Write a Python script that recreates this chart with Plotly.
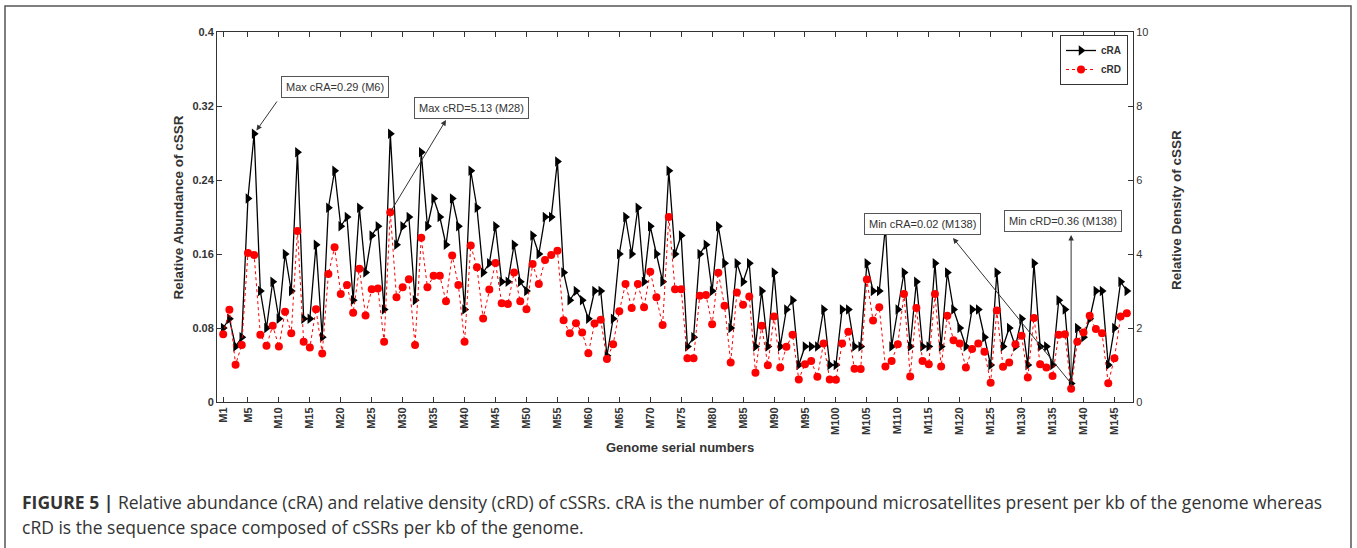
import plotly.graph_objects as go

# ---------------- data ----------------
genomes = ["M%d" % i for i in range(1, 148)]
tick_labels = ["M1", "M5", "M10", "M15", "M20", "M25", "M30", "M35", "M40", "M45",
               "M50", "M55", "M60", "M65", "M70", "M75", "M80", "M85", "M90", "M95",
               "M100", "M105", "M110", "M115", "M120", "M125", "M130", "M135", "M140", "M145"]

cra = [0.08, 0.09, 0.06, 0.07, 0.22, 0.29, 0.12, 0.08, 0.13, 0.09,
       0.16, 0.12, 0.27, 0.09, 0.09, 0.17, 0.07, 0.21, 0.25, 0.19,
       0.20, 0.11, 0.21, 0.14, 0.18, 0.19, 0.10, 0.29, 0.17, 0.19,
       0.20, 0.11, 0.27, 0.19, 0.22, 0.20, 0.17, 0.22, 0.19, 0.10,
       0.25, 0.21, 0.14, 0.15, 0.19, 0.13, 0.13, 0.17, 0.13, 0.12,
       0.18, 0.16, 0.20, 0.20, 0.26, 0.14, 0.11, 0.12, 0.11, 0.09,
       0.12, 0.12, 0.05, 0.09, 0.16, 0.20, 0.16, 0.21, 0.13, 0.19,
       0.16, 0.13, 0.25, 0.16, 0.18, 0.06, 0.07, 0.16, 0.17, 0.12,
       0.19, 0.15, 0.08, 0.15, 0.13, 0.15, 0.06, 0.12, 0.06, 0.14,
       0.06, 0.10, 0.11, 0.04, 0.06, 0.06, 0.06, 0.10, 0.04, 0.04,
       0.10, 0.10, 0.06, 0.06, 0.15, 0.12, 0.12, 0.19, 0.06, 0.10,
       0.14, 0.06, 0.13, 0.06, 0.06, 0.15, 0.06, 0.14, 0.10, 0.08,
       0.06, 0.10, 0.10, 0.07, 0.04, 0.14, 0.06, 0.08, 0.06, 0.09,
       0.04, 0.15, 0.06, 0.06, 0.04, 0.11, 0.10, 0.02, 0.08, 0.07,
       0.09, 0.12, 0.12, 0.04, 0.08, 0.13, 0.12]

crd = [1.83, 2.49, 1.01, 1.54, 4.03, 3.97, 1.82, 1.52, 2.06, 1.50,
       2.44, 1.86, 4.62, 1.63, 1.47, 2.51, 1.31, 3.46, 4.18, 2.92,
       3.16, 2.41, 3.60, 2.34, 3.05, 3.07, 1.63, 5.13, 2.83, 3.10,
       3.32, 1.54, 4.44, 3.10, 3.41, 3.41, 2.72, 3.96, 3.16, 1.63,
       4.23, 3.64, 2.26, 3.04, 3.76, 2.67, 2.65, 3.50, 2.72, 2.51,
       3.73, 3.19, 3.84, 3.97, 4.09, 2.21, 1.86, 2.13, 1.88, 1.32,
       2.12, 2.22, 1.16, 1.56, 2.45, 3.19, 2.54, 3.19, 2.56, 3.52,
       2.83, 2.08, 5.00, 3.05, 3.05, 1.18, 1.18, 2.87, 2.89, 2.10,
       3.49, 2.60, 1.07, 2.96, 2.63, 2.85, 0.79, 2.06, 0.99, 2.31,
       0.93, 1.49, 1.82, 0.61, 1.02, 1.11, 0.68, 1.58, 0.61, 0.60,
       1.58, 1.90, 0.90, 0.89, 3.31, 2.20, 2.56, 0.96, 1.11, 1.56,
       2.92, 0.69, 2.54, 1.11, 1.02, 2.92, 0.96, 2.33, 1.67, 1.58,
       0.93, 1.43, 1.58, 1.36, 0.52, 2.47, 0.95, 1.07, 1.56, 1.79,
       0.66, 2.27, 1.02, 0.93, 0.70, 1.82, 1.83, 0.36, 1.63, 1.88,
       2.33, 1.97, 1.86, 0.51, 1.18, 2.31, 2.40]

# ---------------- layout helpers (pixel geometry) ----------------
W, H = 1357, 548
PL, PR, PT, PB = 217, 1133, 32, 402          # plot area in pixels
XMIN, XMAX = 0, 148
Y1MAX, Y2MAX = 0.4, 10

def px_x(px):
    return XMIN + (px - PL) / (PR - PL) * (XMAX - XMIN)

def px_y1(py):
    return (PB - py) / (PB - PT) * Y1MAX

def px_y2(py):
    return (PB - py) / (PB - PT) * Y2MAX

def pap_x(px):
    return (px - PL) / (PR - PL)

def pap_y(py):
    return (PB - py) / (PB - PT)

pos = [genomes.index(g) + 1 for g in genomes]
tick_pos = [genomes.index(t) + 1 for t in tick_labels]

FONT = "Liberation Sans, Arial, sans-serif"
TXT = "#333333"

fig = go.Figure()
fig.add_trace(go.Scatter(
    x=pos, y=cra, name="cRA", mode="lines+markers",
    line=dict(color="black", width=1.3),
    marker=dict(symbol="triangle-right", size=9, color="black"),
))
fig.add_trace(go.Scatter(
    x=pos, y=crd, name="cRD", mode="lines+markers", yaxis="y2",
    line=dict(color="red", width=1, dash="dot"),
    marker=dict(symbol="circle", size=8, color="red"),
))

annotations = []
# arrows
annotations.append(dict(x=6, y=cra[5], xref="x", yref="y",
                        ax=px_x(278), ay=px_y1(100), axref="x", ayref="y",
                        text="", showarrow=True, arrowhead=2, arrowsize=1.1,
                        arrowwidth=1, arrowcolor="#333", standoff=4))
annotations.append(dict(x=px_x(446), y=px_y2(120), xref="x", yref="y2",
                        ax=28, ay=crd[27], axref="x", ayref="y2",
                        text="", showarrow=True, arrowhead=2, arrowsize=1.1,
                        arrowwidth=1, arrowcolor="#333"))
annotations.append(dict(x=px_x(953), y=px_y1(238), xref="x", yref="y",
                        ax=138, ay=cra[137], axref="x", ayref="y",
                        text="", showarrow=True, arrowhead=2, arrowsize=1.1,
                        arrowwidth=1, arrowcolor="#333"))
annotations.append(dict(x=138, y=px_y2(235), xref="x", yref="y2",
                        ax=138, ay=crd[137], axref="x", ayref="y2",
                        text="", showarrow=True, arrowhead=2, arrowsize=1.1,
                        arrowwidth=1, arrowcolor="#333"))

# boxes
boxes = [("Max cRA=0.29 (M6)", 334.5, 87),
         ("Max cRD=5.13 (M28)", 471, 108),
         ("Min cRA=0.02 (M138)", 922, 224),
         ("Min cRD=0.36 (M138)", 1063, 221)]
for t, bx, by in boxes:
    annotations.append(dict(x=pap_x(bx), y=pap_y(by), xref="paper", yref="paper",
                            text=t, showarrow=False, xanchor="center", yanchor="middle",
                            font=dict(family=FONT, size=11, color=TXT),
                            bgcolor="white", bordercolor="#555", borderwidth=1, borderpad=4))

# axis titles
annotations.append(dict(x=pap_x(680), y=pap_y(447), xref="paper", yref="paper",
                        xanchor="center", yanchor="middle",
                        text="<b>Genome serial numbers</b>", showarrow=False,
                        font=dict(family=FONT, size=13, color=TXT)))
annotations.append(dict(x=pap_x(177.5), y=pap_y(208), xref="paper", yref="paper",
                        xanchor="center", yanchor="middle",
                        text="<b>Relative Abundance of cSSR</b>", showarrow=False, textangle=-90,
                        font=dict(family=FONT, size=13.5, color=TXT)))
annotations.append(dict(x=pap_x(1176), y=pap_y(210), xref="paper", yref="paper",
                        xanchor="center", yanchor="middle",
                        text="<b>Relative Density of cSSR</b>", showarrow=False, textangle=-90,
                        font=dict(family=FONT, size=13.5, color=TXT)))

# caption
CAP = "Open Sans, Liberation Sans, sans-serif"
annotations.append(dict(x=pap_x(20), y=pap_y(502), xref="paper", yref="paper",
                        xanchor="left", yanchor="middle", showarrow=False,
                        text="<b>FIGURE 5 |</b> Relative abundance (cRA) and relative density (cRD) of cSSRs. "
                             "cRA is the number of compound microsatellites present per kb of the genome whereas",
                        font=dict(family=CAP, size=17.5, color="#333")))
annotations.append(dict(x=pap_x(20), y=pap_y(527), xref="paper", yref="paper",
                        xanchor="left", yanchor="middle", showarrow=False,
                        text="cRD is the sequence space composed of cSSRs per kb of the genome.",
                        font=dict(family=CAP, size=17.5, color="#333")))

shapes = [dict(type="rect", xref="paper", yref="paper",
               x0=pap_x(5), x1=pap_x(1351), y0=pap_y(640), y1=pap_y(6),
               line=dict(color="#555", width=1.5))]

fig.update_layout(
    width=W, height=H,
    margin=dict(l=PL, r=W - PR, t=PT, b=H - PB, pad=0),
    paper_bgcolor="white", plot_bgcolor="white",
    showlegend=True,
    legend=dict(x=pap_x(1128), y=pap_y(35), xanchor="right", yanchor="top",
                bgcolor="white", bordercolor="#333", borderwidth=1,
                font=dict(family=FONT, size=10, color=TXT, weight="bold"),
                itemwidth=30, tracegroupgap=0),
    xaxis=dict(range=[XMIN, XMAX], tickmode="array", tickvals=tick_pos, ticktext=tick_labels,
               tickangle=-90, ticks="inside", ticklen=5, tickcolor="#333",
               showline=True, linecolor="#333", linewidth=1, mirror="ticks",
               showgrid=False, zeroline=False,
               tickfont=dict(family=FONT, size=11, color=TXT, weight="bold")),
    yaxis=dict(range=[0, Y1MAX], tickmode="array", tickvals=[0, 0.08, 0.16, 0.24, 0.32, 0.4],
               ticktext=["0", "0.08", "0.16", "0.24", "0.32", "0.4"],
               ticks="inside", ticklen=5, tickcolor="#333",
               showline=True, linecolor="#333", linewidth=1,
               showgrid=False, zeroline=False,
               tickfont=dict(family=FONT, size=11, color=TXT, weight="bold")),
    yaxis2=dict(range=[0, Y2MAX], overlaying="y", side="right",
                tickmode="array", tickvals=[0, 2, 4, 6, 8, 10],
                ticks="inside", ticklen=5, tickcolor="#333",
                showline=True, linecolor="#333", linewidth=1,
                showgrid=False, zeroline=False,
                tickfont=dict(family=FONT, size=11, color=TXT)),
    annotations=annotations,
    shapes=shapes,
)

fig.write_html("out.html", config={"displayModeBar": False},
               post_script="document.body.style.margin='0px';document.body.style.overflow='hidden';")
